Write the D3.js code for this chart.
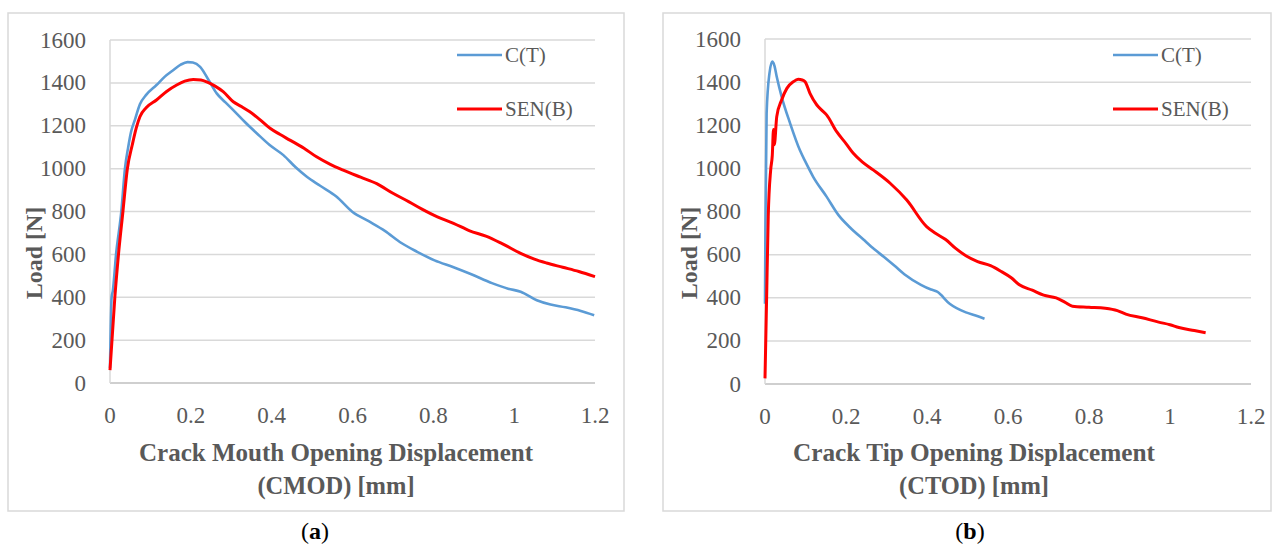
<!DOCTYPE html>
<html>
<head>
<meta charset="utf-8">
<script src="https://cdn.jsdelivr.net/npm/d3@7"></script>
<style>
  body { margin: 0; background: #fff; }
  text { font-family: "Liberation Serif", "DejaVu Serif", serif; fill: #595959; }
</style>
</head>
<body>
<div id="chart"></div>
<script>
// ticks
const xTicks = [0, 0.2, 0.4, 0.6, 0.8, 1, 1.2];
const yTicks = [0, 200, 400, 600, 800, 1000, 1200, 1400, 1600];
const seriesNames = ["C(T)", "SEN(B)"];

// (a) load vs CMOD
const cmodCT = [[0,70],[0.004,400],[0.007,430],[0.015,600],[0.028,800],[0.037,1000],[0.045,1100],[0.052,1171],
  [0.062,1230],[0.074,1300],[0.09,1345],[0.115,1390],[0.135,1428],[0.157,1460],[0.175,1485],[0.192,1497],
  [0.205,1495],[0.223,1475],[0.245,1410],[0.264,1351],[0.285,1310],[0.305,1273],[0.335,1215],[0.363,1165],
  [0.395,1110],[0.429,1063],[0.46,1005],[0.487,962],[0.52,920],[0.56,870],[0.6,798],[0.64,755],[0.68,710],
  [0.721,653],[0.76,612],[0.803,572],[0.85,540],[0.894,507],[0.945,466],[0.985,440],[1.016,426],[1.056,386],
  [1.09,366],[1.127,353],[1.165,336],[1.198,316]];
const cmodSENB = [[0,60],[0.012,400],[0.021,600],[0.032,800],[0.043,1000],[0.055,1110],[0.065,1190],[0.074,1242],
  [0.09,1285],[0.115,1320],[0.14,1360],[0.165,1390],[0.185,1408],[0.206,1416],[0.225,1413],[0.239,1405],
  [0.26,1385],[0.28,1359],[0.305,1312],[0.325,1290],[0.346,1265],[0.37,1230],[0.396,1188],[0.42,1160],
  [0.445,1133],[0.48,1095],[0.511,1055],[0.545,1020],[0.577,993],[0.62,960],[0.66,930],[0.7,885],[0.74,845],
  [0.773,810],[0.81,775],[0.85,745],[0.89,710],[0.93,685],[0.97,650],[1.016,605],[1.05,578],[1.08,560],
  [1.12,540],[1.16,520],[1.2,496]];

// (b) load vs CTOD
const ctodCT = [[0,372],[0.001,714],[0.004,1255],[0.011,1441],[0.018,1495],[0.023,1478],[0.029,1425],
  [0.041,1333],[0.062,1209],[0.086,1085],[0.1,1030],[0.119,961],[0.152,869],[0.182,782],[0.21,726],
  [0.243,670],[0.27,625],[0.294,589],[0.32,548],[0.344,509],[0.385,460],[0.41,438],[0.425,428],[0.456,372],
  [0.496,332],[0.52,318],[0.542,303]];
const ctodSENB = [[0,26],[0.004,400],[0.008,776],[0.014,992],[0.018,1060],[0.021,1180],[0.023,1110],
  [0.029,1240],[0.041,1317],[0.054,1371],[0.07,1402],[0.082,1413],[0.092,1410],[0.099,1402],[0.111,1348],
  [0.128,1294],[0.14,1270],[0.152,1248],[0.177,1170],[0.2,1115],[0.218,1070],[0.24,1030],[0.267,993],
  [0.309,931],[0.35,853],[0.399,730],[0.42,700],[0.446,670],[0.47,630],[0.496,595],[0.525,568],[0.557,549],
  [0.585,520],[0.608,493],[0.628,460],[0.66,435],[0.688,412],[0.719,399],[0.74,380],[0.759,361],[0.8,356],
  [0.84,351],[0.87,340],[0.891,324],[0.931,307],[0.972,287],[1.0,275],[1.022,262],[1.06,248],[1.088,238]];

const W = 1274, H = 545;
const svg = d3.select("#chart").append("svg")
  .attr("width", W)
  .attr("height", H);

const colors = ["#5b9bd5", "#ff0000"];

function drawPanel(p) {
  const g = svg.append("g");

  g.append("rect")
    .attr("x", p.frame[0]).attr("y", p.frame[1])
    .attr("width", p.frame[2]).attr("height", p.frame[3])
    .attr("fill", "none").attr("stroke", "#d9d9d9").attr("stroke-width", 1.5);

  const x = d3.scaleLinear().domain([0, 1.2]).range([p.x0, p.x1]);
  const y = d3.scaleLinear().domain([0, 1600]).range([p.y0, p.y1]);

  // gridlines
  g.selectAll(".grid")
    .data(yTicks.filter(d => d > 0))
    .enter().append("line")
    .attr("x1", p.x0).attr("x2", p.x1)
    .attr("y1", d => y(d)).attr("y2", d => y(d))
    .attr("stroke", "#d9d9d9").attr("stroke-width", 1.5);

  // axes lines
  g.append("line")
    .attr("x1", p.x0).attr("x2", p.x1).attr("y1", y(0)).attr("y2", y(0))
    .attr("stroke", "#bfbfbf").attr("stroke-width", 1.5);
  g.append("line")
    .attr("x1", p.x0).attr("x2", p.x0).attr("y1", y(0)).attr("y2", y(1600))
    .attr("stroke", "#d9d9d9").attr("stroke-width", 1.5);

  // tick labels
  g.selectAll(".yl")
    .data(yTicks)
    .enter().append("text")
    .attr("x", p.x0 - 24).attr("y", d => y(d) + 7.5)
    .attr("text-anchor", "end").attr("font-size", 23)
    .text(d => d);
  g.selectAll(".xl")
    .data(xTicks)
    .enter().append("text")
    .attr("x", d => x(d)).attr("y", p.y0 + 40)
    .attr("text-anchor", "middle").attr("font-size", 23)
    .text(d => d);

  // titles
  g.append("text")
    .attr("transform", `translate(${p.yTitleX},${253}) rotate(-90)`)
    .attr("text-anchor", "middle").attr("font-size", 24).attr("font-weight", "bold")
    .text("Load [N]");
  g.append("text")
    .attr("x", p.titleX).attr("y", 461)
    .attr("text-anchor", "middle").attr("font-size", 24.5).attr("font-weight", "bold")
    .attr("textLength", p.title1W).attr("lengthAdjust", "spacingAndGlyphs")
    .text(p.title1);
  g.append("text")
    .attr("x", p.titleX).attr("y", 494)
    .attr("text-anchor", "middle").attr("font-size", 24.5).attr("font-weight", "bold")
    .text(p.title2);

  // caption
  const cap = g.append("text")
    .attr("x", p.capX).attr("y", 539)
    .attr("text-anchor", "middle").attr("font-size", 24)
    .style("fill", "#000");
  cap.append("tspan").text("(");
  cap.append("tspan").attr("font-weight", "bold").text(p.cap);
  cap.append("tspan").text(")");

  // lines
  const line = d3.line().x(d => x(d[0])).y(d => y(d[1])).curve(d3.curveMonotoneX);
  [p.ct, p.senb].forEach((data, i) => {
    g.append("path")
      .datum(data)
      .attr("d", line)
      .attr("fill", "none")
      .attr("stroke", colors[i])
      .attr("stroke-width", i == 0 ? 2.6 : 3)
      .attr("stroke-linejoin", "round");
  });

  // legend
  seriesNames.forEach((name, i) => {
    const ly = 55 + i * 54;
    g.append("line")
      .attr("x1", p.legX).attr("x2", p.legX + 45)
      .attr("y1", ly).attr("y2", ly)
      .attr("stroke", colors[i]).attr("stroke-width", i == 0 ? 2.6 : 3);
    g.append("text")
      .attr("x", p.legX + 48).attr("y", ly + 7)
      .attr("font-size", 21)
      .text(name);
  });
}

drawPanel({
  frame: [8, 13, 616, 498], x0: 110, x1: 595, y0: 383, y1: 40,
  yTitleX: 42, titleX: 336, title1: "Crack Mouth Opening Displacement", title1W: 394,
  title2: "(CMOD) [mm]", capX: 315, cap: "a", legX: 457,
  ct: cmodCT, senb: cmodSENB
});

drawPanel({
  frame: [663, 13, 608, 498], x0: 765, x1: 1251, y0: 384, y1: 39,
  yTitleX: 697, titleX: 974, title1: "Crack Tip Opening Displacement", title1W: 362,
  title2: "(CTOD) [mm]", capX: 970, cap: "b", legX: 1113,
  ct: ctodCT, senb: ctodSENB
});
</script>
</body>
</html>
